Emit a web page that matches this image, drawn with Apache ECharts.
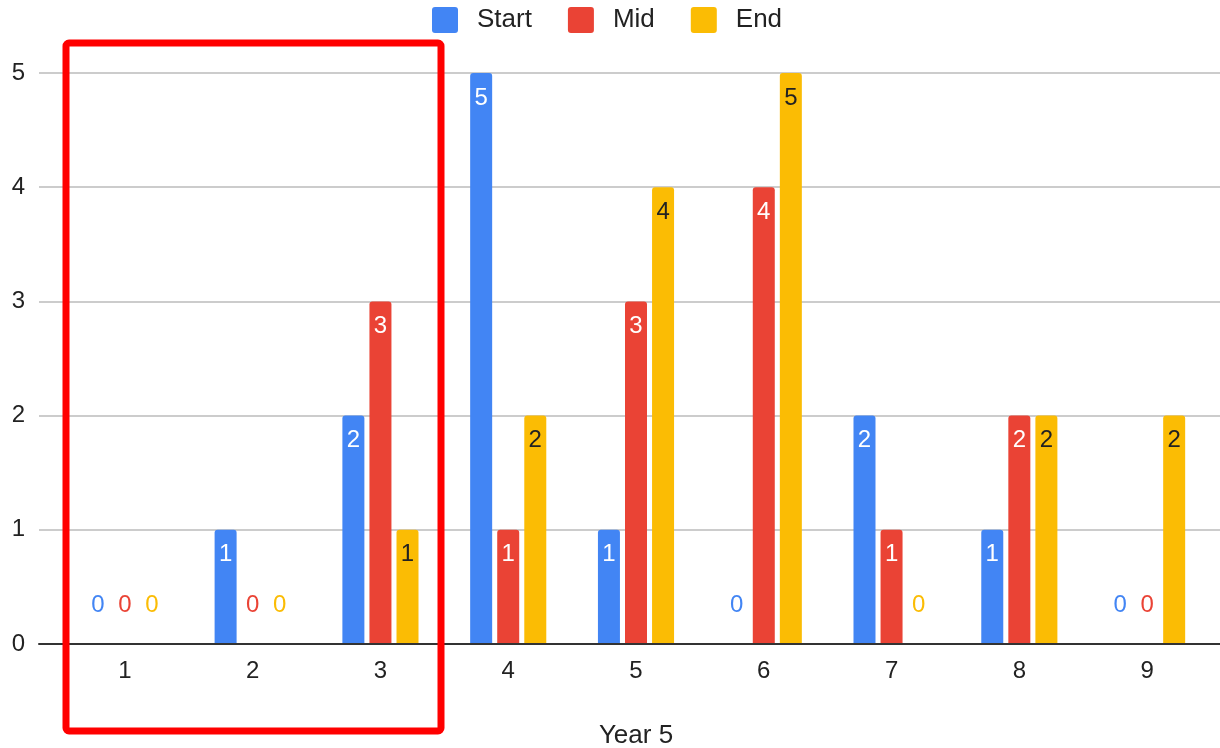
<!DOCTYPE html>
<html>
<head>
<meta charset="utf-8">
<script src="https://cdn.jsdelivr.net/npm/echarts@6/dist/echarts.min.js"></script>
<style>
  html, body { margin: 0; padding: 0; background: #fff; }
  #chart { width: 1220px; height: 748px; }
</style>
</head>
<body>
<div id="chart"></div>
<script>
// Counts per week, three snapshots
const categories = ['1', '2', '3', '4', '5', '6', '7', '8', '9'];
const startValues = [0, 1, 2, 5, 1, 0, 2, 1, 0];
const midValues   = [0, 0, 3, 1, 3, 4, 1, 2, 0];
const endValues   = [0, 0, 1, 2, 4, 5, 0, 2, 2];
const yTicks = [0, 1, 2, 3, 4, 5];

const FONT = '"Liberation Sans", Arial, sans-serif';
const COLORS = { Start: '#4285F4', Mid: '#EA4335', End: '#FBBC04' };

// square legend key with slightly rounded corners
const KEY_ICON = 'path://M3,0 H23 A3,3 0 0 1 26,3 V23 A3,3 0 0 1 23,26 H3 A3,3 0 0 1 0,23 V3 A3,3 0 0 1 3,0 Z';

// Non-zero values sit inside the bar top; zeros float above the baseline in the series colour
function barData(values, seriesColor, insideColor) {
  return values.map(v => {
    if (v === 0) {
      return {
        value: v,
        label: { position: 'top', distance: 27, color: seriesColor }
      };
    }
    return { value: v, label: { position: 'insideTop', distance: 13, color: insideColor } };
  });
}

function barSeries(name, values, insideColor) {
  return {
    name: name,
    type: 'bar',
    xAxisIndex: 1,
    yAxisIndex: 1,
    barWidth: 22,
    barGap: '23%',
    itemStyle: { color: COLORS[name], borderRadius: [3, 3, 0, 0] },
    label: {
      show: true,
      fontFamily: FONT,
      fontSize: 24
    },
    data: barData(values, COLORS[name], insideColor)
  };
}

const chart = echarts.init(document.getElementById('chart'), null, { renderer: 'canvas' });

chart.setOption({
  animation: false,
  backgroundColor: '#ffffff',
  textStyle: { fontFamily: FONT },
  legend: {
    top: 7,
    left: 432,
    padding: 0,
    itemWidth: 26,
    itemHeight: 26,
    itemGap: 36,
    icon: KEY_ICON,
    textStyle: { fontFamily: FONT, fontSize: 26, color: '#222', padding: [0, 0, 0, 14] },
    data: ['Start', 'Mid', 'End']
  },
  grid: [
    // full-width frame: gridlines, baseline and value labels
    { left: 39, right: 0, top: 73, bottom: 104, containLabel: false, outerBoundsMode: 'none' },
    // bar area
    { left: 61, right: 9, top: 73, bottom: 104, containLabel: false, outerBoundsMode: 'none' }
  ],
  xAxis: [
    {
      gridIndex: 0,
      type: 'value',
      min: 0,
      max: 1,
      axisLine: { show: true, onZero: false, lineStyle: { color: '#333333', width: 2 } },
      axisTick: { show: false },
      axisLabel: { show: false },
      splitLine: { show: false },
      z: 5
    },
    {
      gridIndex: 1,
      type: 'category',
      data: categories,
      axisLine: { show: false },
      axisTick: { show: false },
      axisLabel: { fontFamily: FONT, fontSize: 24, color: '#222', margin: 15 },
      name: 'Year 5',
      nameLocation: 'middle',
      nameGap: 79,
      nameTextStyle: { fontFamily: FONT, fontSize: 26, color: '#222' }
    }
  ],
  yAxis: [
    {
      gridIndex: 0,
      type: 'value',
      min: yTicks[0],
      max: yTicks[yTicks.length - 1],
      interval: 1,
      axisLine: { show: false },
      axisTick: { show: false },
      axisLabel: { fontFamily: FONT, fontSize: 24, color: '#222', margin: 14 },
      splitLine: { show: true, lineStyle: { color: '#cccccc', width: 2 } }
    },
    {
      gridIndex: 1,
      type: 'value',
      min: yTicks[0],
      max: yTicks[yTicks.length - 1],
      interval: 1,
      show: false,
      splitLine: { show: false }
    }
  ],
  series: [
    barSeries('Start', startValues, '#ffffff'),
    barSeries('Mid', midValues, '#ffffff'),
    barSeries('End', endValues, '#222222')
  ],
  graphic: [
    {
      type: 'rect',
      z: 100,
      shape: { x: 66, y: 43, width: 375, height: 688, r: 3 },
      style: { fill: 'none', stroke: '#ff0000', lineWidth: 7 }
    }
  ]
});
</script>
</body>
</html>
